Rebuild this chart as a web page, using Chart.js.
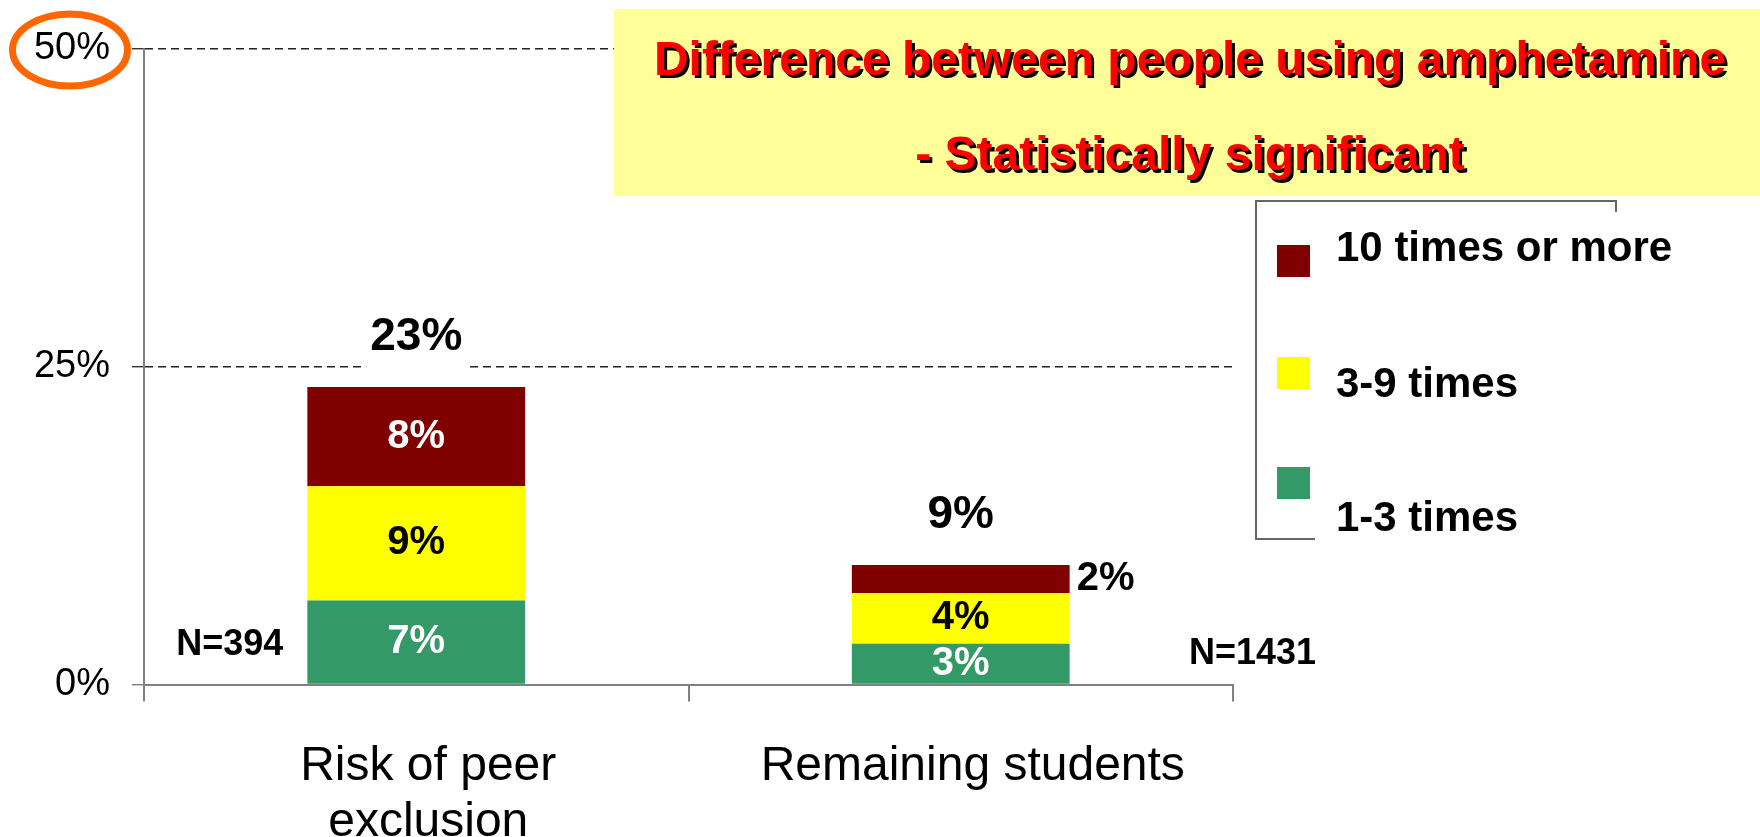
<!DOCTYPE html>
<html>
<head>
<meta charset="utf-8">
<script src="https://cdn.jsdelivr.net/npm/chart.js@4/dist/chart.umd.min.js"></script>
<style>
  html, body { margin: 0; padding: 0; background: #fff; }
  #wrap { width: 1760px; height: 837px; position: relative; }
</style>
</head>
<body>
<div id="wrap"><canvas id="amphChart"></canvas></div>
<script>
// data (percent of students)
const categories = [['Risk of peer', 'exclusion'], 'Remaining students'];
const seriesNames = ['1-3 times', '3-9 times', '10 times or more'];
const use1to3 = [6.6, 3.2];
const use3to9 = [9.0, 4.0];
const use10plus = [7.8, 2.2];
const sampleSizes = [394, 1431];
const yTickValues = [0, 25, 50];
const titleLines = ['Difference between people using amphetamine', '- Statistically significant'];

const colors = ['#339966', '#ffff00', '#800000'];
const insideTextColors = ['#ffffff', '#000000', '#ffffff'];
const FONT = '"Liberation Sans", Arial, sans-serif';

const decorations = {
    id: 'decorations',
    afterDatasetsDraw(chart) {
        const ctx = chart.ctx;
        ctx.save();
        ctx.textBaseline = 'middle';

        // segment labels, put beside the bar when the segment is too thin
        ctx.font = 'bold 40px ' + FONT;
        chart.data.datasets.forEach(function(ds, di) {
            chart.getDatasetMeta(di).data.forEach(function(bar, i) {
                const txt = Math.round(ds.data[i]) + '%';
                const h = bar.base - bar.y;
                const cy = (bar.y + bar.base) / 2;
                if (h > 34) {
                    ctx.fillStyle = insideTextColors[di];
                    ctx.textAlign = 'center';
                    ctx.fillText(txt, bar.x, cy);
                } else {
                    ctx.fillStyle = '#000';
                    ctx.textAlign = 'left';
                    ctx.fillText(txt, bar.x + bar.width / 2 + 7, cy);
                }
            });
        });

        // totals above the bars (white box hides the gridline behind)
        const last = chart.data.datasets.length - 1;
        const topMeta = chart.getDatasetMeta(last);
        ctx.font = 'bold 46px ' + FONT;
        ctx.textAlign = 'center';
        categories.forEach(function(c, i) {
            const total = chart.data.datasets.reduce(function(s, ds) { return s + ds.data[i]; }, 0);
            const bar = topMeta.data[i];
            const txt = Math.round(total) + '%';
            const y = bar.y - 50;
            const w = ctx.measureText(txt).width;
            ctx.fillStyle = '#fff';
            ctx.fillRect(bar.x - w / 2 - 4, y - 26, w + 10, 62);
            ctx.fillStyle = '#000';
            ctx.fillText(txt, bar.x, y);
        });

        // sample sizes
        const firstMeta = chart.getDatasetMeta(0);
        ctx.font = 'bold 36px ' + FONT;
        ctx.fillStyle = '#000';
        const b0 = firstMeta.data[0];
        ctx.textAlign = 'right';
        ctx.fillText('N=' + sampleSizes[0], b0.x - b0.width / 2 - 24, b0.base - 39);
        const b1 = firstMeta.data[1];
        ctx.textAlign = 'left';
        ctx.fillText('N=' + sampleSizes[1], chart.chartArea.right - 44, b1.base - 30);
        ctx.restore();
    },
    afterDraw(chart) {
        const ctx = chart.ctx;
        const yScale = chart.scales.y;
        ctx.save();

        // title box
        ctx.fillStyle = '#ffff99';
        ctx.fillRect(614, 9, 1146, 187);
        ctx.font = 'bold 48px ' + FONT;
        ctx.textAlign = 'center';
        ctx.textBaseline = 'middle';
        ctx.shadowColor = '#000';
        ctx.shadowOffsetX = 3;
        ctx.shadowOffsetY = 3;
        ctx.shadowBlur = 0;
        ctx.fillStyle = '#ff0000';
        ctx.fillText(titleLines[0], 1190, 62);
        ctx.fillText(titleLines[1], 1190, 157);
        ctx.shadowColor = 'transparent';
        ctx.shadowOffsetX = 0;
        ctx.shadowOffsetY = 0;

        // legend (top series first)
        ctx.strokeStyle = '#666';
        ctx.lineWidth = 2;
        ctx.beginPath();
        ctx.moveTo(1616, 212);
        ctx.lineTo(1616, 201);
        ctx.lineTo(1256, 201);
        ctx.lineTo(1256, 539);
        ctx.lineTo(1315, 539);
        ctx.stroke();
        const boxY = [245, 357, 467];
        const textY = [249, 385, 519];
        ctx.font = 'bold 42px ' + FONT;
        ctx.textAlign = 'left';
        for (let k = 0; k < 3; k++) {
            const s = 2 - k;
            ctx.fillStyle = colors[s];
            ctx.fillRect(1277, boxY[k], 33, 32);
            ctx.fillStyle = '#000';
            ctx.fillText(seriesNames[s], 1336, textY[k]);
        }

        // highlight ring round the top tick label
        const yTop = yScale.getPixelForValue(50);
        ctx.strokeStyle = '#ff6600';
        ctx.lineWidth = 7;
        ctx.beginPath();
        ctx.ellipse(70, yTop + 1, 57.5, 36, 0, 0, Math.PI * 2);
        ctx.stroke();
        ctx.restore();
    }
};

const ctx = document.getElementById('amphChart').getContext('2d');
const amphChart = new Chart(ctx, {
    type: 'bar',
    data: {
        labels: categories,
        datasets: [
            { label: seriesNames[0], data: use1to3, backgroundColor: colors[0] },
            { label: seriesNames[1], data: use3to9, backgroundColor: colors[1] },
            { label: seriesNames[2], data: use10plus, backgroundColor: colors[2] }
        ]
    },
    options: {
        responsive: true,
        maintainAspectRatio: false,
        animation: false,
        datasets: { bar: { barPercentage: 0.4, categoryPercentage: 1 } },
        layout: { padding: { top: 49, right: 527, bottom: 0, left: 0 } },
        plugins: {
            legend: { display: false },
            title: { display: false },
            tooltip: { enabled: false }
        },
        scales: {
            x: {
                stacked: true,
                afterFit: function(scale) { scale.height = 152.5; },
                grid: {
                    offset: true,
                    drawOnChartArea: false,
                    color: '#808080',
                    lineWidth: 2,
                    tickLength: 17
                },
                border: { display: true, color: '#808080', width: 2 },
                ticks: {
                    color: '#000',
                    padding: 38,
                    labelOffset: 12,
                    maxRotation: 0,
                    font: { family: FONT, size: 48, lineHeight: 1.15 }
                }
            },
            y: {
                stacked: true,
                min: 0,
                max: 50,
                afterFit: function(scale) { scale.width = 144; },
                afterBuildTicks: function(scale) {
                    scale.ticks = yTickValues.map(function(v) { return { value: v }; });
                },
                grid: {
                    color: function(c) { return c.tick && c.tick.value === 0 ? 'rgba(0,0,0,0)' : '#222'; },
                    tickColor: function(c) { return c.tick && c.tick.value === 0 ? '#808080' : '#333'; },
                    lineWidth: 1.4,
                    tickLength: 12
                },
                border: { display: true, color: '#808080', width: 2, dash: [8, 5] },
                ticks: {
                    color: '#000',
                    padding: 22,
                    font: { family: FONT, size: 38 },
                    callback: function(v) { return v + '%'; }
                }
            }
        }
    },
    plugins: [decorations]
});
</script>
</body>
</html>
